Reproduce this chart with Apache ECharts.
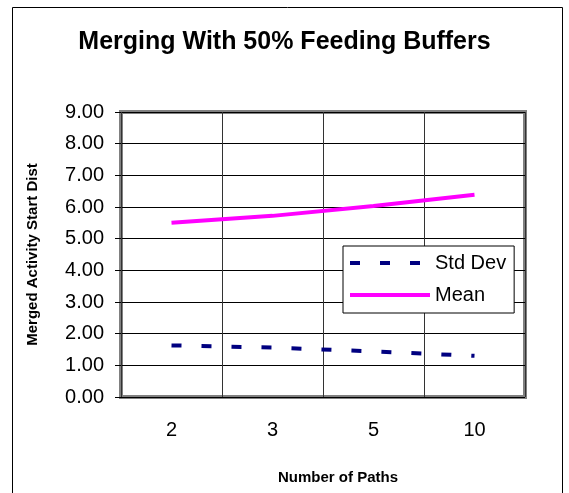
<!DOCTYPE html>
<html>
<head>
<meta charset="utf-8">
<script src="https://cdn.jsdelivr.net/npm/echarts@6/dist/echarts.min.js"></script>
<style>
  html, body { margin: 0; padding: 0; background: #fff; }
  #chart { width: 569px; height: 493px; }
</style>
</head>
<body>
<div id="chart"></div>
<script>
// data
const paths = ['2', '3', '5', '10'];
const stdDev = [1.63, 1.56, 1.44, 1.30];
const mean = [5.50, 5.72, 6.03, 6.39];

const chart = echarts.init(document.getElementById('chart'));
const font = 'Liberation Sans, Arial, sans-serif';

const option = {
  backgroundColor: '#fff',
  animation: false,
  title: {
    text: 'Merging With 50% Feeding Buffers',
    left: 'center',
    top: 25,
    textStyle: { fontFamily: font, fontSize: 25, fontWeight: 'bold', color: '#000' }
  },
  grid: {
    left: 121, top: 112, right: 44, bottom: 96,
    show: true,
    borderColor: '#808080',
    borderWidth: 4
  },
  legend: {
    orient: 'vertical',
    left: 343,
    top: 246,
    padding: [7, 8, 8, 5],
    itemGap: 12,
    itemWidth: 80,
    itemHeight: 20,
    backgroundColor: '#fff',
    borderColor: '#000',
    borderWidth: 1,
    itemStyle: { opacity: 0 },
    lineStyle: { width: 4 },
    textStyle: { fontFamily: font, fontSize: 20, color: '#000' },
    data: ['Std Dev', 'Mean']
  },
  xAxis: {
    type: 'category',
    data: paths,
    boundaryGap: true,
    name: 'Number of Paths',
    nameLocation: 'middle',
    nameGap: 73,
    nameTextStyle: { fontFamily: font, fontSize: 15, fontWeight: 'bold', color: '#000', padding: [0, 0, 0, 30] },
    axisLine: { show: false },
    axisTick: { show: false },
    axisLabel: { fontFamily: font, fontSize: 20, color: '#000', margin: 23 },
    splitLine: { show: true, lineStyle: { color: '#333', width: 1 } }
  },
  yAxis: {
    type: 'value',
    min: 0,
    max: 9,
    interval: 1,
    name: 'Merged Activity Start Dist',
    nameLocation: 'middle',
    nameGap: 81,
    nameTextStyle: { fontFamily: font, fontSize: 15, fontWeight: 'bold', color: '#000' },
    axisLine: { show: false },
    axisTick: { show: true, length: 6, inside: false, lineStyle: { color: '#000' } },
    axisLabel: {
      fontFamily: font, fontSize: 20, color: '#000', margin: 17,
      formatter: v => v.toFixed(2)
    },
    splitLine: { show: true, lineStyle: { color: '#000', width: 1 } }
  },
  series: [
    {
      name: 'Std Dev',
      type: 'line',
      data: stdDev,
      symbol: 'none',
      lineStyle: { color: '#000080', width: 4, type: [10, 20], cap: 'butt' },
      itemStyle: { color: '#000080' }
    },
    {
      name: 'Mean',
      type: 'line',
      data: mean,
      symbol: 'none',
      lineStyle: { color: '#ff00ff', width: 4 },
      itemStyle: { color: '#ff00ff' }
    }
  ],
  graphic: [
    {
      type: 'rect',
      shape: { x: 12.5, y: 7.5, width: 550, height: 500 },
      style: { fill: null, stroke: '#000', lineWidth: 1 },
      silent: true,
      z: -1
    }
  ]
};

chart.setOption(option);
</script>
</body>
</html>
